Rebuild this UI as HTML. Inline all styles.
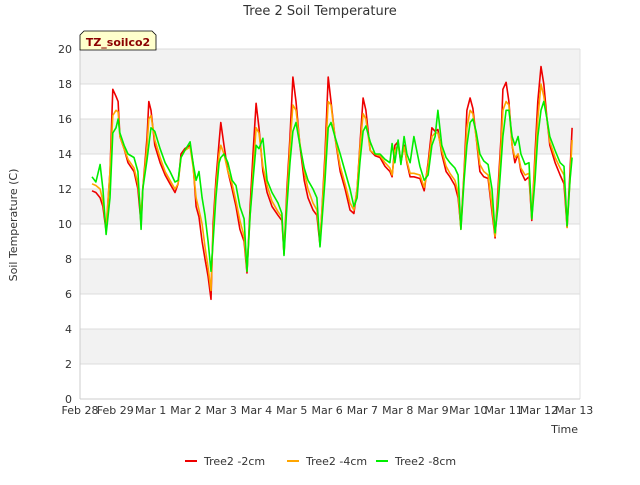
<!DOCTYPE html>
<html><head><meta charset="utf-8"><style>
body{margin:0;background:#fff;font-family:"Liberation Sans","DejaVu Sans",sans-serif}
</style></head><body>
<svg id="chart" width="640" height="480" viewBox="0 0 640 480" xmlns="http://www.w3.org/2000/svg" font-family="DejaVu Sans, Liberation Sans, sans-serif">
<rect width="640" height="480" fill="#fff"/>
<text x="320" y="15" text-anchor="middle" font-size="13" fill="#333">Tree 2 Soil Temperature</text>
<g id="bands"></g>
<g id="grid"></g>
<g id="series"></g>
<g id="axes"></g>
<text transform="translate(17,225) rotate(-90)" text-anchor="middle" font-size="11" fill="#333">Soil Temperature (C)</text>
<text x="578" y="433" text-anchor="end" font-size="11" fill="#333">Time</text>
<g>
<path d="M80,50 L80,35 L84,31 L152,31 L156,35 L156,50 Z" fill="#ffffcc" stroke="#000" stroke-width="0.8"/>
<text x="118" y="46" text-anchor="middle" font-size="11" font-weight="bold" fill="#8b0000">TZ_soilco2</text>
</g>
<g id="legend"></g>
</svg>
<script>
const T=[.34,.45,.57,.65,.74,.85,.93,1.02,1.08,1.13,1.25,1.36,1.53,1.64,1.73,1.78,1.90,1.95,2.01,2.12,2.27,2.41,2.55,2.69,2.78,2.86,2.97,3.12,3.20,3.29,3.37,3.46,3.54,3.63,3.71,3.77,3.85,3.94,3.99,4.08,4.19,4.31,4.42,4.53,4.65,4.73,4.82,4.90,4.99,5.07,5.18,5.30,5.44,5.61,5.72,5.78,5.86,5.95,6.03,6.12,6.23,6.35,6.46,6.60,6.71,6.80,6.94,7.03,7.11,7.22,7.37,7.51,7.65,7.76,7.85,7.93,8.02,8.10,8.22,8.36,8.50,8.64,8.78,8.84,8.92,9.01,9.09,9.18,9.26,9.35,9.46,9.63,9.75,9.86,9.97,10.06,10.14,10.25,10.37,10.48,10.62,10.71,10.79,10.88,10.96,11.05,11.13,11.22,11.33,11.44,11.56,11.67,11.76,11.84,11.93,11.98,12.07,12.15,12.24,12.32,12.41,12.49,12.61,12.72,12.80,12.89,12.97,13.06,13.14,13.23,13.31,13.46,13.60,13.71,13.80,13.88,13.94];
const S2=[11.9,11.8,11.5,11.0,9.6,13,17.7,17.3,17.0,15,14.3,13.5,13,12,10,12,15,17,16.5,14.5,13.5,12.8,12.3,11.8,12.3,14,14.3,14.5,13.5,11,10.4,9,8,7,5.7,10,12.5,14.7,15.8,14.5,13,12,11,9.7,9,7.2,11,14,16.9,15.5,13,11.8,11,10.5,10.2,8.3,12,15,18.4,17,14.5,12.5,11.5,10.8,10.5,8.8,14,18.4,17,15,13,12,10.8,10.6,12,14.5,17.2,16.5,14.2,13.9,13.8,13.3,13,12.7,14.5,14.7,13.5,14.5,13.5,12.7,12.7,12.6,11.9,13.5,15.5,15.3,15.4,14,13,12.7,12.2,11.5,9.8,13,16.5,17.2,16.6,15,13,12.7,12.6,10.7,9.2,12,15,17.7,18.1,17,14.5,13.5,14,13,12.5,12.7,10.2,14,17,19,18,16,14.5,13.5,12.8,12.3,9.8,13,15.5];
const S4=[12.3,12.2,12.0,11.3,9.8,13,16.2,16.5,16.4,15,14.3,13.7,13.2,12.3,10.5,12,14.5,16,16.2,14.8,13.8,13.0,12.5,12.0,12.3,13.8,14.2,14.4,13.3,11.5,10.8,10,8.7,7.5,6.2,9.5,12,14,14.5,14,13,12.3,11.3,10.2,9.3,7.3,10.5,13,15.5,15.2,13.3,12.2,11.3,10.7,10.4,8.3,11.5,14.5,16.8,16.5,14.6,13,12,11.2,10.8,9,13.5,17,16.8,15,13.3,12.3,11.2,10.8,12,14.3,16.3,16,14.2,14,13.9,13.5,13.2,12.8,14.2,14.5,13.6,14.4,13.6,12.9,12.9,12.8,12.1,13.3,15,15.2,15.2,14.2,13.3,12.9,12.5,11.8,9.7,12.8,15.5,16.5,16.3,15,13.4,13,12.8,11,9.3,11.5,14.5,16.5,17,16.8,14.5,13.8,14,13.2,12.8,12.9,10.3,13.5,16,18,17.3,16,14.7,13.8,13.2,12.8,9.8,12.5,14.8];
const S8=[12.7,12.4,13.4,12.0,9.4,11.5,15.2,15.5,16.0,15.2,14.5,14,13.8,13,9.7,12,13.7,14.5,15.5,15.3,14.3,13.5,13,12.4,12.5,13.8,14.2,14.7,13.5,12.5,13.0,11.5,10.5,9,7.3,9,11.5,13.5,13.8,14,13.5,12.5,12.2,11,10.3,7.3,10.5,12.5,14.5,14.3,14.9,12.5,11.8,11.2,10.6,8.2,11,13.5,15.3,15.8,14.5,13.2,12.5,12,11.5,8.7,12.5,15.5,15.8,15,14,13,12,11,11.5,13.5,15.3,15.6,14.7,14,14,13.7,13.5,14.6,13.5,14.8,13.4,15,14,13.5,15.0,13.3,12.5,12.8,14.5,15,16.5,14.5,13.8,13.5,13.2,12.8,9.7,12.5,14.5,15.8,16,15.3,14,13.6,13.4,12,9.5,11,13.5,15,16.5,16.5,15,14.5,15,14,13.4,13.5,10.3,12.5,15,16.5,17,16,15,14.2,13.5,13.3,9.9,12.5,13.8];
const yTicks=[0,2,4,6,8,10,12,14,16,18,20];
const xTicks=["Feb 28","Feb 29","Mar 1","Mar 2","Mar 3","Mar 4","Mar 5","Mar 6","Mar 7","Mar 8","Mar 9","Mar 10","Mar 11","Mar 12","Mar 13"];
const seriesNames=["Tree2 -2cm","Tree2 -4cm","Tree2 -8cm"];
const seriesColors=["#ee0000","#ffa500","#00ee00"];
const NS="http://www.w3.org/2000/svg";
const L=80,R=580,TOP=49,BOT=399;
const xs=t=>L+t*35.3, ys=v=>BOT-(v/20)*(BOT-TOP);
function mk(tag,attrs,parent){const e=document.createElementNS(NS,tag);for(const k in attrs)e.setAttribute(k,attrs[k]);parent.appendChild(e);return e;}
const bands=document.getElementById('bands'),grid=document.getElementById('grid'),axes=document.getElementById('axes'),ser=document.getElementById('series'),leg=document.getElementById('legend');
mk('rect',{x:L,y:TOP,width:R-L,height:BOT-TOP,fill:'#fff'},bands);
for(let v=2;v<20;v+=4){const r=mk('rect',{x:L,y:ys(v+2),width:R-L,height:ys(v)-ys(v+2),fill:'#f2f2f2'},bands);

}
yTicks.forEach(v=>{const l=mk('line',{x1:L,x2:R,y1:ys(v),y2:ys(v),stroke:'#dcdcdc','stroke-width':1},grid);


const t=mk('text',{x:L-8,y:ys(v)+4,'text-anchor':'end','font-size':11,fill:'#333'},axes);t.textContent=v;

});
xTicks.forEach((s,i)=>{const t=mk('text',{x:xs(i),y:414,'text-anchor':'middle','font-size':11,fill:'#333'},axes);t.textContent=s;

});
mk('line',{x1:L,x2:L,y1:TOP,y2:BOT,stroke:'#ccc'},axes);
mk('line',{x1:R,x2:R,y1:TOP,y2:BOT,stroke:'#e0e0e0'},axes);
mk('line',{x1:L,x2:R,y1:BOT,y2:BOT,stroke:'#ccc'},axes);
[S2,S4,S8].forEach((d,k)=>{const p=mk('polyline',{points:d.map((v,i)=>xs(T[i]).toFixed(1)+','+ys(v).toFixed(1)).join(' '),fill:'none',stroke:seriesColors[k],'stroke-width':1.6,'stroke-linejoin':'round'},ser);

});
const lx=[185,287,376];
seriesNames.forEach((n,k)=>{const g=mk('g',{},leg);


mk('line',{x1:lx[k],x2:lx[k]+12,y1:461,y2:461,stroke:seriesColors[k],'stroke-width':2},g);
const t=mk('text',{x:lx[k]+19,y:465,'font-size':11,fill:'#333'},g);t.textContent=n;});
</script>
</body></html>
